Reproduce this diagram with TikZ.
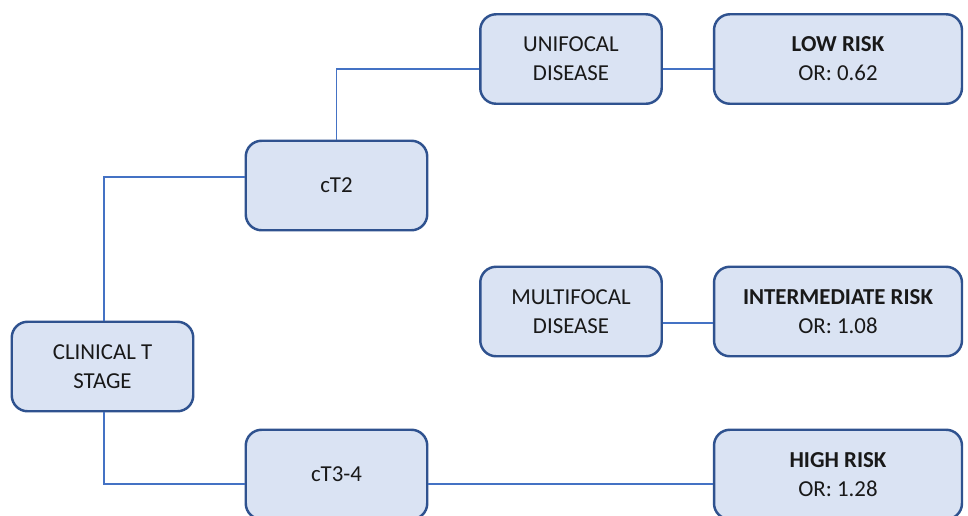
\documentclass[tikz,border=0pt]{standalone}
\usepackage{fontspec}
\setmainfont{Carlito}
\usepackage{tikz}

\definecolor{boxfill}{HTML}{DAE3F3}
\definecolor{boxline}{HTML}{2F528F}
\definecolor{linkline}{HTML}{4472C4}

\tikzset{
    stagebox/.style={draw=boxline, line width=1.4pt, fill=boxfill, rounded corners=9pt,
        minimum width=3.63cm, minimum height=1.79cm, align=center, text=black!90,
        font=\fontsize{13}{16.4}\selectfont},
    riskbox/.style={stagebox, minimum width=4.96cm},
    link/.style={draw=linkline, line width=1.1pt}
}

\begin{document}
\begin{tikzpicture}[x=0.02cm, y=-0.02cm]
    % Frame
    \clip (0,0) rectangle (968,515);
    \fill[white] (0,0) rectangle (968,515);
    % Stages
    \node[stagebox] (clin) at (102.5,366.5) {CLINICAL T\\STAGE};
    \node[stagebox] (ct2) at (336.5,185.5) {cT2};
    \node[stagebox] (ct34) at (336.5,474.5) {cT3-4};
    % Focality
    \node[stagebox] (uni) at (571,59) {UNIFOCAL\\DISEASE};
    \node[stagebox] (multi) at (571,311.5) {MULTIFOCAL\\DISEASE};
    % Risk groups
    \node[riskbox] (low) at (838,59) {\textbf{LOW RISK}\\OR: 0.62};
    \node[riskbox] (inter) at (838,311.5) {\textbf{INTERMEDIATE RISK}\\OR: 1.08};
    \node[riskbox] (high) at (838,474.5) {\textbf{HIGH RISK}\\OR: 1.28};
    % Tree lines
    \draw[link] ([xshift=0.03cm]clin.north) |- ([yshift=0.17cm]ct2.west);
    \draw[link] ([xshift=0.03cm]clin.south) |- ([yshift=-0.19cm]ct34.west);
    \draw[link] (ct2.north) |- ([yshift=-0.2cm]uni.west);
    % Risk lines
    \draw[link] ([yshift=-0.2cm]uni.east) -- ([yshift=-0.2cm]low.west);
    \draw[link] ([yshift=-0.23cm]multi.east) -- ([yshift=-0.23cm]inter.west);
    \draw[link] ([yshift=-0.19cm]ct34.east) -- ([yshift=-0.19cm]high.west);
\end{tikzpicture}
\end{document}
